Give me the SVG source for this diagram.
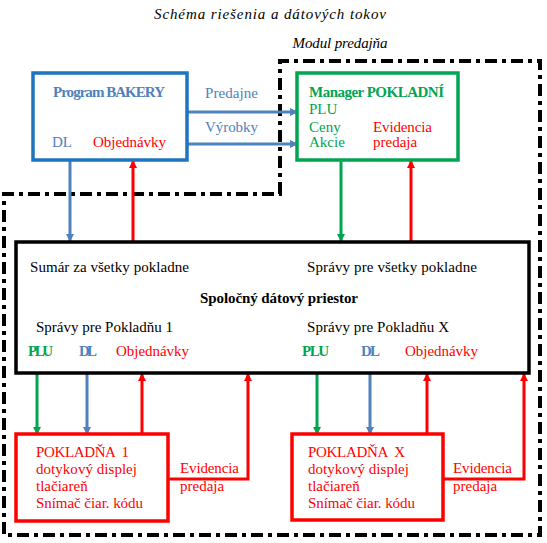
<svg xmlns="http://www.w3.org/2000/svg" width="547" height="543" viewBox="0 0 547 543">
<defs>
<style>
text{font-size:15px}
.it{font-style:italic}
.b{font-weight:bold}
.blue{fill:#4f81bd}
.green{fill:#00a550}
.red{fill:#ff0000}
.blk{fill:#000}
.bx{fill:#fff;stroke-width:3.5}
.ln{fill:none;stroke-width:3}
.dd{fill:none;stroke:#000;stroke-width:4;stroke-dasharray:12 5 4 5}
</style>
<marker id="ab" viewBox="0 0 8 8" refX="7" refY="4" markerWidth="8" markerHeight="8" markerUnits="userSpaceOnUse" orient="auto"><path d="M0,0 L8,4 L0,8 z" fill="#4f81bd"/></marker>
<marker id="ag" viewBox="0 0 8 8" refX="7" refY="4" markerWidth="8" markerHeight="8" markerUnits="userSpaceOnUse" orient="auto"><path d="M0,0 L8,4 L0,8 z" fill="#00a550"/></marker>
<marker id="ar" viewBox="0 0 8 8" refX="7" refY="4" markerWidth="8" markerHeight="8" markerUnits="userSpaceOnUse" orient="auto"><path d="M0,0 L8,4 L0,8 z" fill="#ff0000"/></marker>
</defs>
<rect width="547" height="543" fill="#fff"/>
<g font-family="'Liberation Serif', 'DejaVu Serif', serif">
<text class="it" x="270" y="19" text-anchor="middle" font-size="17" textLength="232">Schéma riešenia a dátových tokov</text>
<text class="it" x="340" y="48" text-anchor="middle" font-size="15" textLength="95">Modul predajňa</text>
<path class="dd" d="M280,194 L280,61 L540,61 L540,535 L4,535 L4,194 Z"/>
<g id="connectors">
<path class="ln" stroke="#4f81bd" d="M187,112 H297" marker-end="url(#ab)"/>
<path class="ln" stroke="#4f81bd" d="M187,144 H297" marker-end="url(#ab)"/>
<text class="blue" x="205" y="98" textLength="53">Predajne</text>
<text class="blue" x="205" y="132" textLength="53">Výrobky</text>
<path class="ln" stroke="#4f81bd" d="M70,160 V241" marker-end="url(#ab)"/>
<path class="ln" stroke="#ff0000" d="M133,241 V161" marker-end="url(#ar)"/>
<path class="ln" stroke="#00a550" d="M341,160 V241" marker-end="url(#ag)"/>
<path class="ln" stroke="#ff0000" d="M411,241 V161" marker-end="url(#ar)"/>
<path class="ln" stroke="#00a550" d="M37,373 V434" marker-end="url(#ag)"/>
<path class="ln" stroke="#4f81bd" d="M87,373 V434" marker-end="url(#ab)"/>
<path class="ln" stroke="#ff0000" d="M142,434 V374" marker-end="url(#ar)"/>
<path class="ln" stroke="#ff0000" d="M168,479 H248 V374" marker-end="url(#ar)"/>
<path class="ln" stroke="#00a550" d="M317,373 V434" marker-end="url(#ag)"/>
<path class="ln" stroke="#4f81bd" d="M370,373 V434" marker-end="url(#ab)"/>
<path class="ln" stroke="#ff0000" d="M427,434 V374" marker-end="url(#ar)"/>
<path class="ln" stroke="#ff0000" d="M443,479 H524 V374" marker-end="url(#ar)"/>
<text class="red" x="180" y="473" textLength="59">Evidencia</text>
<text class="red" x="180" y="491">predaja</text>
<text class="red" x="453" y="473" textLength="59">Evidencia</text>
<text class="red" x="453" y="491">predaja</text>
</g>
<g id="bakery">
<rect class="bx" x="33" y="73" width="154" height="87" stroke="#1f74c0"/>
<text class="blue b" x="53" y="97" textLength="112">Program BAKERY</text>
<text class="blue" x="52" y="147">DL</text>
<text class="red" x="93" y="147" textLength="73">Objednávky</text>
</g>
<g id="manager">
<rect class="bx" x="297" y="73" width="161" height="87" stroke="#00a550"/>
<text class="green b" x="309" y="97" textLength="135">Manager POKLADNÍ</text>
<text class="green" x="309" y="114">PLU</text>
<text class="green" x="309" y="132">Ceny</text>
<text class="green" x="309" y="147">Akcie</text>
<text class="red" x="373" y="132" textLength="59">Evidencia</text>
<text class="red" x="373" y="147">predaja</text>
</g>
<g id="spolocny">
<rect class="bx" x="16" y="242" width="513" height="131" stroke="#000"/>
<text class="blk" x="30" y="272" textLength="159">Sumár za všetky pokladne</text>
<text class="blk" x="307" y="272" textLength="170">Správy pre všetky pokladne</text>
<text class="blk b" x="200" y="303" textLength="158">Spoločný dátový priestor</text>
<text class="blk" x="36" y="332" textLength="137">Správy pre Pokladňu 1</text>
<text class="blk" x="307" y="332" textLength="142">Správy pre Pokladňu X</text>
<text class="green b" x="28" y="356" textLength="25">PLU</text>
<text class="blue b" x="79" y="356" textLength="18">DL</text>
<text class="red" x="116" y="356" textLength="73">Objednávky</text>
<text class="green b" x="302" y="356" textLength="27">PLU</text>
<text class="blue b" x="361" y="356" textLength="19">DL</text>
<text class="red" x="405" y="356" textLength="73">Objednávky</text>
</g>
<g id="pokladna1">
<rect class="bx" x="16" y="434" width="152" height="87" stroke="#ff0000"/>
<text class="red" x="36" y="457" textLength="93" xml:space="preserve">POKLADŇA  1</text>
<text class="red" x="36" y="474" textLength="101">dotykový displej</text>
<text class="red" x="36" y="491">tlačiareň</text>
<text class="red" x="36" y="508" textLength="107">Snímač čiar. kódu</text>
</g>
<g id="pokladnaX">
<rect class="bx" x="292" y="434" width="151" height="86" stroke="#ff0000"/>
<text class="red" x="308" y="457" textLength="97" xml:space="preserve">POKLADŇA  X</text>
<text class="red" x="308" y="474" textLength="101">dotykový displej</text>
<text class="red" x="308" y="491">tlačiareň</text>
<text class="red" x="308" y="508" textLength="107">Snímač čiar. kódu</text>
</g>
</g>
</svg>
